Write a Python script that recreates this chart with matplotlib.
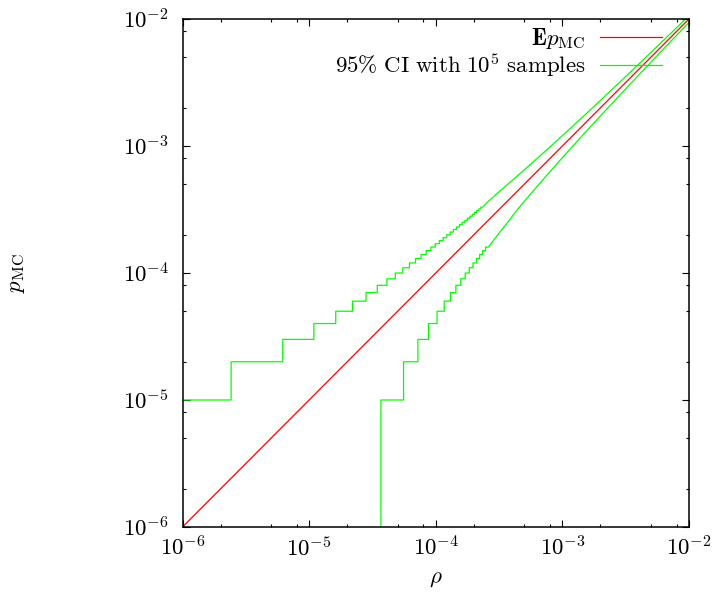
import matplotlib
matplotlib.use('Agg')
import matplotlib.pyplot as plt
from matplotlib.ticker import LogLocator, FuncFormatter, NullFormatter
import numpy as np

plt.rcParams['mathtext.fontset'] = 'cm'

n_samples = 1e5

# expected estimate: straight line p = rho
rho_line = [1e-6, 1e-2]
p_expected = [1e-6, 1e-2]

# upper 97.5% bound: step edges (rho) and hit counts on each step
up_edges = [1.0e-6, 2.42e-6, 6.19e-6, 1.090e-5, 1.623e-5, 2.202e-5, 2.814e-5,
            3.454e-5, 4.115e-5, 4.795e-5, 5.491e-5, 6.201e-5, 6.922e-5,
            7.654e-5, 8.395e-5, 9.145e-5, 9.903e-5, 1.0668e-4, 1.1439e-4,
            1.2217e-4, 1.2999e-4, 1.3787e-4, 1.4580e-4, 1.5377e-4, 1.6179e-4,
            1.6984e-4, 1.7793e-4, 1.8606e-4, 1.9422e-4, 2.0241e-4, 2.106e-4,
            2.188e-4, 2.271e-4, 2.354e-4]
up_counts = [1, 2, 3, 4, 5, 6, 7, 8, 9, 10, 11, 12, 13, 14, 15, 16, 17, 18,
             19, 20, 21, 22, 23, 24, 25, 26, 27, 28, 29, 30, 31, 32, 33]
up_tail_rho = [2.5e-4, 3.0e-4, 4.0e-4, 5.0e-4, 7.0e-4, 1.0e-3, 1.5e-3,
               2.0e-3, 3.0e-3, 5.0e-3, 7.0e-3, 1.0e-2]
up_tail_counts = [35.3, 41.7, 53.4, 64.9, 87.4, 120.6, 175.0, 228.7, 334.9,
                  544.8, 752.9, 1063.0]

# lower 2.5% bound (zero hits below the first edge)
low_edges = [3.689e-5, 5.572e-5, 7.225e-5, 8.767e-5, 1.0242e-4, 1.1668e-4,
             1.3059e-4, 1.4423e-4, 1.5763e-4, 1.7085e-4, 1.8390e-4,
             1.9682e-4, 2.0962e-4, 2.2230e-4, 2.3490e-4, 2.4740e-4,
             2.5983e-4]
low_counts = [1, 2, 3, 4, 5, 6, 7, 8, 9, 10, 11, 12, 13, 14, 15, 16]
low_tail_rho = [2.8e-4, 3.2e-4, 3.7e-4, 4.5e-4, 5.0e-4, 7.0e-4, 1.0e-3,
                1.5e-3, 2.0e-3, 3.0e-3, 5.0e-3, 7.0e-3, 1.0e-2]
low_tail_counts = [17.6, 20.9, 25.1, 32.35, 36.64, 54.1, 80.9, 126.5, 172.8,
                   266.6, 456.7, 648.6, 938.5]


def step_path(edges, counts, tail_x, tail_c, start=None):
    xs, ys = [], []
    if start is not None:
        xs.append(edges[0])
        ys.append(start)
    for i, c in enumerate(counts):
        xs += [edges[i], edges[i + 1]]
        ys += [c, c]
    xs += tail_x
    ys += tail_c
    return np.array(xs), np.array(ys) / n_samples


ux, uy = step_path(up_edges, up_counts, up_tail_rho, up_tail_counts)
lx, ly = step_path(low_edges, low_counts, low_tail_rho, low_tail_counts, start=0)

fig = plt.figure(figsize=(7.13, 5.96), dpi=100)
ax = fig.add_axes([182.5 / 713, 1 - 527 / 596, 506.5 / 713, 508 / 596])
ax.set_xscale('log')
ax.set_yscale('log')

ax.plot(rho_line, p_expected, color='#ff0000', lw=0.9, label=r'$\mathbf{E}p_{\mathrm{MC}}$')
ax.plot(ux, uy, color='#00ff00', lw=0.9,
        label=r'$\mathrm{95\%\ CI\ with\ }10^5\mathrm{\ samples}$')
ax.plot(lx, ly, color='#00ff00', lw=0.9)

ax.set_xlim(1e-6, 1e-2)
ax.set_ylim(1e-6, 1e-2)

fmt = FuncFormatter(lambda v, pos: r'$10^{%d}$' % round(np.log10(v)))
for axis in (ax.xaxis, ax.yaxis):
    axis.set_major_locator(LogLocator(base=10, numticks=10))
    axis.set_minor_locator(LogLocator(base=10, subs=[2, 5, 8], numticks=10))
    axis.set_major_formatter(fmt)
    axis.set_minor_formatter(NullFormatter())

ax.tick_params(which='both', direction='in', top=True, right=True, width=0.8)
ax.tick_params(which='major', length=5, labelsize=16.5)
ax.tick_params(axis='x', which='major', pad=7)
ax.tick_params(axis='y', which='major', pad=10)
ax.tick_params(which='minor', length=2.5)
for s in ax.spines.values():
    s.set_linewidth(1.1)

ax.text(-0.33, 0.5, r'$p_{\mathrm{MC}}$', transform=ax.transAxes,
        rotation=90, ha='center', va='center', fontsize=16.5)
ax.text(0.5, -0.1, r'$\rho$', transform=ax.transAxes,
        ha='center', va='center', fontsize=16.5)

ax.legend(loc='upper right', bbox_to_anchor=(0.9467, 0.986), markerfirst=False,
          frameon=False, fontsize=16.5, handlelength=2.7, handletextpad=0.65,
          labelspacing=0.0, borderpad=0, borderaxespad=0)

fig.savefig('out.png', dpi=100)
